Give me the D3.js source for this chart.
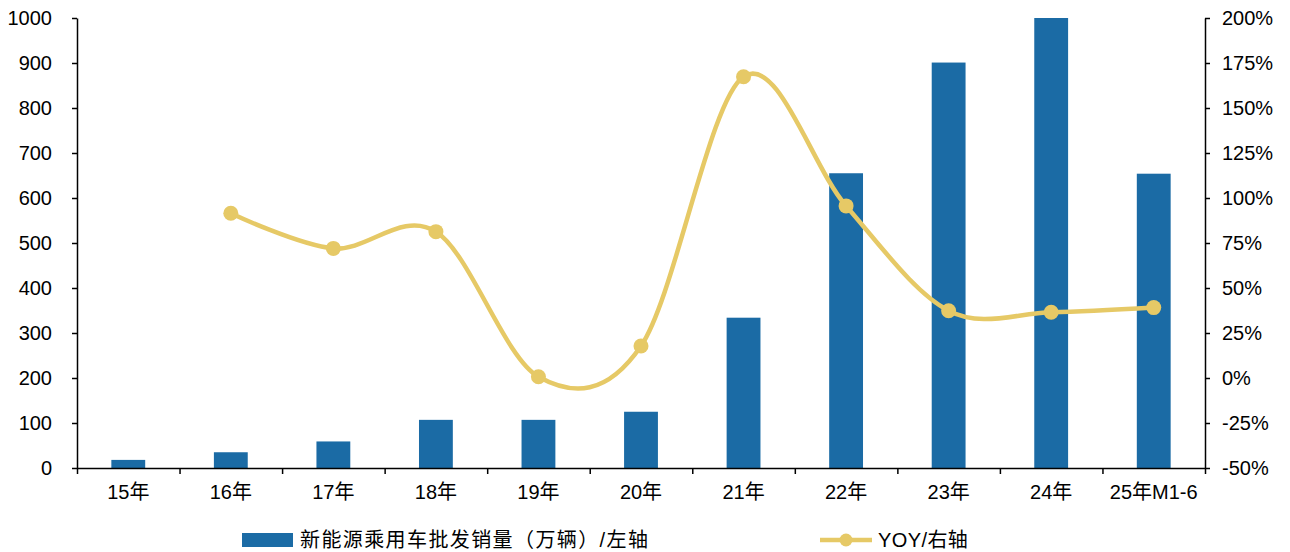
<!DOCTYPE html>
<html>
<head>
<meta charset="utf-8">
<script src="https://cdn.jsdelivr.net/npm/d3@7/dist/d3.min.js"></script>
<style>
  html, body { margin: 0; padding: 0; background: #fff; }
  svg { display: block; }
  text { font-family: "Liberation Sans", Arial, "Noto Sans CJK SC", sans-serif; fill: #000; }
</style>
</head>
<body>
<svg id="chart" width="1290" height="552"></svg>
<script>
// Categories (year labels)
const categories = ["15年", "16年", "17年", "18年", "19年", "20年", "21年", "22年", "23年", "24年", "25年M1-6"];
// NEV passenger car wholesale volume, 10k units (left axis)
const sales = [18, 35, 59, 107, 107, 125, 334, 655, 901, 1000, 654];
// Year-over-year growth, % (right axis); first year has no YoY
const yoy = [null, 91.5, 72.0, 81.3, 0.7, 17.8, 167.4, 95.6, 37.4, 36.5, 39.1];
// Axis tick values
const leftTicks = [0, 100, 200, 300, 400, 500, 600, 700, 800, 900, 1000];
const rightTicks = [-50, -25, 0, 25, 50, 75, 100, 125, 150, 175, 200];
// Legend labels
const legendBar = "新能源乘用车批发销量（万辆）/左轴";
const legendLine = "YOY/右轴";

const barColor = "#1B6BA5";
const lineColor = "#E6C966";

const svg = d3.select("#chart");
const plot = { left: 77, right: 1205, top: 18, bottom: 468 };

const x = d3.scaleBand()
  .domain(categories)
  .range([plot.left, plot.right])
  .paddingInner(0.67)
  .paddingOuter(0.335);

const yL = d3.scaleLinear().domain([0, 1000]).range([plot.bottom, plot.top]);
const yR = d3.scaleLinear().domain([-50, 200]).range([plot.bottom, plot.top]);

// Clip bars to the plotting area
svg.append("defs").append("clipPath").attr("id", "plotClip")
  .append("rect")
  .attr("x", plot.left).attr("y", plot.top)
  .attr("width", plot.right - plot.left).attr("height", plot.bottom - plot.top);

// Bars
svg.append("g").attr("clip-path", "url(#plotClip)")
  .selectAll("rect")
  .data(categories.map((c, i) => ({ c, v: sales[i] })))
  .join("rect")
  .attr("x", d => x(d.c))
  .attr("width", x.bandwidth())
  .attr("y", d => yL(d.v))
  .attr("height", d => yL(0) - yL(d.v))
  .attr("fill", barColor);

// Left axis
const gL = svg.append("g")
  .attr("transform", `translate(${plot.left},0)`)
  .call(d3.axisLeft(yL).tickValues(leftTicks).tickSize(5).tickSizeOuter(0).tickPadding(20)
    .tickFormat(d3.format("d")));

// Right axis
const gR = svg.append("g")
  .attr("transform", `translate(${plot.right},0)`)
  .call(d3.axisRight(yR).tickValues(rightTicks).tickSize(5).tickSizeOuter(0).tickPadding(12)
    .tickFormat(d => d + "%"));

// Bottom axis: labels at band centres
const gB = svg.append("g")
  .attr("transform", `translate(0,${plot.bottom})`)
  .call(d3.axisBottom(x).tickSize(0).tickSizeOuter(0).tickPadding(17));

// Bottom axis: tick marks on category boundaries
const xEdge = d3.scaleLinear().domain([0, categories.length]).range([plot.left, plot.right]);
const gE = svg.append("g")
  .attr("transform", `translate(0,${plot.bottom})`)
  .call(d3.axisBottom(xEdge).tickValues(d3.range(categories.length + 1)).tickSize(6).tickSizeOuter(0).tickFormat(""));
gE.select(".domain").remove();

[gL, gR, gB, gE].forEach(g => {
  g.selectAll("path.domain").attr("stroke", "#000").attr("stroke-width", 1.5);
  g.selectAll(".tick line").attr("stroke", "#000").attr("stroke-width", 1.5);
  g.selectAll(".tick text").attr("font-size", 20)
    .attr("font-family", '"Liberation Sans", Arial, "Noto Sans CJK SC", sans-serif')
    .attr("fill", "#000");
});

// YoY line
const pts = categories.map((c, i) => ({ c, v: yoy[i] })).filter(d => d.v !== null);
const line = d3.line()
  .x(d => x(d.c) + x.bandwidth() / 2)
  .y(d => yR(d.v))
  .curve(d3.curveCardinal.tension(0));

svg.append("path")
  .datum(pts)
  .attr("d", line)
  .attr("fill", "none")
  .attr("stroke", lineColor)
  .attr("stroke-width", 4.5)
  .attr("stroke-linecap", "round");

svg.append("g").selectAll("circle")
  .data(pts)
  .join("circle")
  .attr("cx", d => x(d.c) + x.bandwidth() / 2)
  .attr("cy", d => yR(d.v))
  .attr("r", 7.5)
  .attr("fill", lineColor);

// Legend
const lg = svg.append("g");
lg.append("rect").attr("x", 242).attr("y", 533).attr("width", 51).attr("height", 14).attr("fill", barColor);
lg.append("text").attr("x", 300).attr("y", 547).attr("font-size", 20)
  .attr("letter-spacing", 1.4).text(legendBar);

lg.append("line").attr("x1", 820).attr("x2", 872).attr("y1", 540).attr("y2", 540)
  .attr("stroke", lineColor).attr("stroke-width", 4.5);
lg.append("circle").attr("cx", 846).attr("cy", 540).attr("r", 6.5).attr("fill", lineColor);
lg.append("text").attr("x", 878).attr("y", 547).attr("font-size", 20)
  .attr("letter-spacing", 0.4).text(legendLine);
</script>
</body>
</html>
